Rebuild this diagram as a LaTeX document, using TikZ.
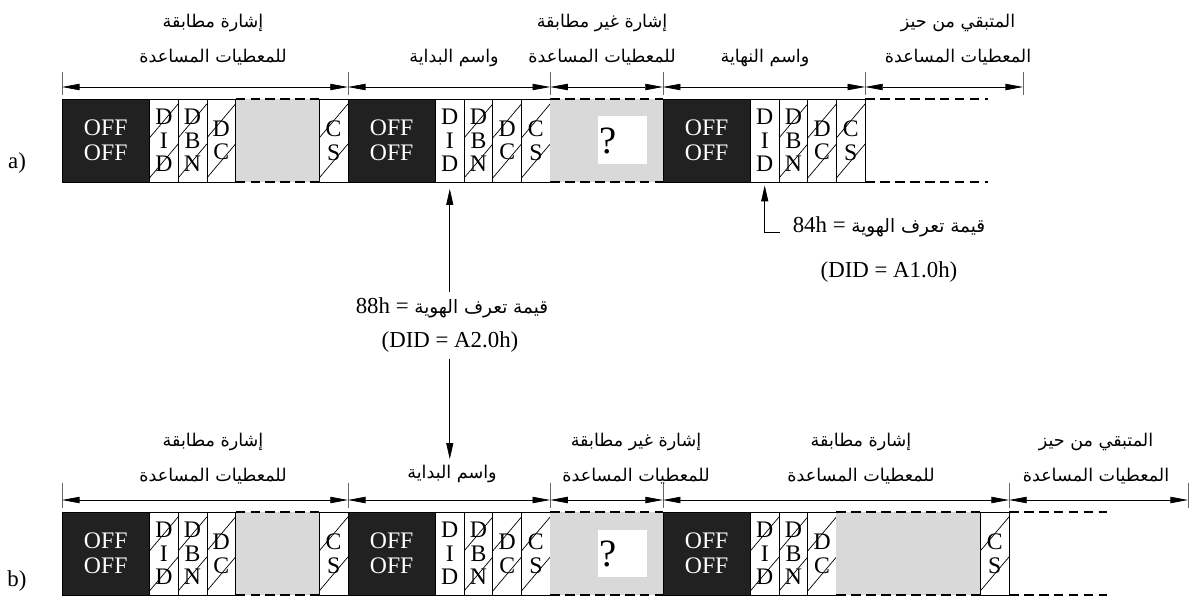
\documentclass[tikz,border=0pt]{standalone}
\usepackage{fontspec}
\setmainfont{Liberation Serif}
\newfontfamily\arabicfont[Script=Arabic]{DejaVu Sans}
\TeXXeTstate=1
\usetikzlibrary{positioning,arrows.meta}

\begin{document}
\begin{tikzpicture}[x=0.02cm,y=-0.02cm,
	blk/.style={draw,fill=black!87,text=white,inner sep=0,outer sep=0,minimum width=1.75cm,minimum height=1.66cm,align=center,font=\fontsize{13.5}{14.5}\selectfont},
	cell/.style={draw,fill=white,inner sep=0,outer sep=0,minimum width=0.574cm,minimum height=1.66cm,align=center,font=\fontsize{13.5}{13.5}\selectfont},
	hcell/.style={cell,path picture={\foreach \k in {0,1,2} \draw[line width=0.4pt] ([yshift=2.3pt+\k*22.8pt]path picture bounding box.south west) -- ++(0.574cm,0.68cm);}},
	gap/.style={fill=black!15,inner sep=0,outer sep=0,minimum height=1.66cm},
	qbox/.style={fill=white,inner sep=0,minimum height=0.96cm,text width=0.98cm,align=left,font=\fontsize{22}{22}\selectfont},
	dsh/.style={line width=1.1pt,dash pattern=on 5.5pt off 3pt},
	dim/.style={{Triangle[length=10pt,width=3.6pt]}-{Triangle[length=10pt,width=3.6pt]}},
	tck/.style={black!60},
	ptr/.style={-{Triangle[length=9pt,width=4pt]}},
	lab/.style={align=center,font=\arabicfont\fontsize{10}{20}\selectfont},
	val/.style={font=\fontsize{13}{14}\selectfont}]
	\useasboundingbox (0,0) rectangle (1192,601);
	\coordinate (dimA) at (0,87);
	\coordinate (dimB) at (0,500);
	\coordinate (endA) at (1023,87);
	\coordinate (endB) at (1188,500);
	\coordinate (tailA) at (988,0);
	\coordinate (tailB) at (1107,0);
	\node[val] (rowa) at (17,163) {a)};
	\node[val] (rowb) at (17,581) {b)};
	\node[blk,anchor=north west] (offA1) at (62,99) {OFF\\OFF};
	\node[hcell,right=0pt of offA1] (didA1) {D\\I\\D};
	\node[hcell,right=0pt of didA1] (dbnA1) {D\\B\\N};
	\node[hcell,right=0pt of dbnA1] (dcA1) {D\\C};
	\node[gap,minimum width=1.674cm,right=0pt of dcA1] (gA1) {};
	\node[hcell,right=0pt of gA1] (csA1) {C\\S};
	\node[blk,right=0pt of csA1] (offA2) {OFF\\OFF};
	\node[cell,right=0pt of offA2] (didA2) {D\\I\\D};
	\node[hcell,right=0pt of didA2] (dbnA2) {D\\B\\N};
	\node[hcell,right=0pt of dbnA2] (dcA2) {D\\C};
	\node[hcell,right=0pt of dcA2] (csA2) {C\\S};
	\node[gap,minimum width=2.254cm,right=0pt of csA2] (gA2) {};
	\node[qbox] (qA) at ([xshift=0.32cm]gA2.center) {\hspace*{1pt}?};
	\node[blk,right=0pt of gA2] (offA3) {OFF\\OFF};
	\node[cell,right=0pt of offA3] (didA3) {D\\I\\D};
	\node[hcell,right=0pt of didA3] (dbnA3) {D\\B\\N};
	\node[hcell,right=0pt of dbnA3] (dcA3) {D\\C};
	\node[hcell,right=0pt of dcA3] (csA3) {C\\S};
	\draw[dsh] (gA1.north west) -- (gA1.north east);
	\draw[dsh] (gA1.south west) -- (gA1.south east);
	\draw[dsh] (gA2.north west) -- (gA2.north east);
	\draw[dsh] (gA2.south west) -- (gA2.south east);
	\draw[dsh] (csA3.north east) -- (csA3.north east -| tailA);
	\draw[dsh] (csA3.south east) -- (csA3.south east -| tailA);
	\draw[tck] (offA1.west |- dimA) ++(0,-15) -- ++(0,23);
	\draw[tck] (csA1.east |- dimA) ++(0,-15) -- ++(0,23);
	\draw[tck] (csA2.east |- dimA) ++(0,-15) -- ++(0,23);
	\draw[tck] (offA3.west |- dimA) ++(0,-15) -- ++(0,23);
	\draw[tck] (csA3.east |- dimA) ++(0,-15) -- ++(0,23);
	\draw[tck] (endA) ++(0,-15) -- ++(0,23);
	\draw[dim] (offA1.west |- dimA) -- (csA1.east |- dimA);
	\draw[dim] (csA1.east |- dimA) -- (csA2.east |- dimA);
	\draw[dim] (csA2.east |- dimA) -- (offA3.west |- dimA);
	\draw[dim] (offA3.west |- dimA) -- (csA3.east |- dimA);
	\draw[dim] (csA3.east |- dimA) -- (endA);
	\node[lab] (labA1) at (213,40) {\beginR إشارة مطابقة\endR\\\beginR للمعطيات المساعدة\endR};
	\node[lab] (labA2) at (454,58) {\beginR واسم البداية\endR};
	\node[lab] (labA3) at (602,40) {\beginR إشارة غير مطابقة\endR\\\beginR للمعطيات المساعدة\endR};
	\node[lab] (labA4) at (765,58) {\beginR واسم النهاية\endR};
	\node[lab] (labA5) at (958,40) {\beginR المتبقي من حيز\endR\\\beginR المعطيات المساعدة\endR};
	\node[blk,anchor=north west] (offB1) at (62,512) {OFF\\OFF};
	\node[hcell,right=0pt of offB1] (didB1) {D\\I\\D};
	\node[hcell,right=0pt of didB1] (dbnB1) {D\\B\\N};
	\node[hcell,right=0pt of dbnB1] (dcB1) {D\\C};
	\node[gap,minimum width=1.674cm,right=0pt of dcB1] (gB1) {};
	\node[hcell,right=0pt of gB1] (csB1) {C\\S};
	\node[blk,right=0pt of csB1] (offB2) {OFF\\OFF};
	\node[cell,right=0pt of offB2] (didB2) {D\\I\\D};
	\node[hcell,right=0pt of didB2] (dbnB2) {D\\B\\N};
	\node[hcell,right=0pt of dbnB2] (dcB2) {D\\C};
	\node[hcell,right=0pt of dcB2] (csB2) {C\\S};
	\node[gap,minimum width=2.254cm,right=0pt of csB2] (gB2) {};
	\node[qbox] (qB) at ([xshift=0.32cm]gB2.center) {\hspace*{1pt}?};
	\node[blk,right=0pt of gB2] (offB3) {OFF\\OFF};
	\node[hcell,right=0pt of offB3] (didB3) {D\\I\\D};
	\node[hcell,right=0pt of didB3] (dbnB3) {D\\B\\N};
	\node[hcell,right=0pt of dbnB3] (dcB3) {D\\C};
	\node[gap,minimum width=2.878cm,right=0pt of dcB3] (gB3) {};
	\node[hcell,right=0pt of gB3] (csB3) {C\\S};
	\draw[dsh] (gB1.north west) -- (gB1.north east);
	\draw[dsh] (gB1.south west) -- (gB1.south east);
	\draw[dsh] (gB2.north west) -- (gB2.north east);
	\draw[dsh] (gB2.south west) -- (gB2.south east);
	\draw[dsh] (gB3.north west) -- (gB3.north east);
	\draw[dsh] (gB3.south west) -- (gB3.south east);
	\draw[dsh] (csB3.north east) -- (csB3.north east -| tailB);
	\draw[dsh] (csB3.south east) -- (csB3.south east -| tailB);
	\draw[tck] (offB1.west |- dimB) ++(0,-17) -- ++(0,25);
	\draw[tck] (csB1.east |- dimB) ++(0,-17) -- ++(0,25);
	\draw[tck] (csB2.east |- dimB) ++(0,-17) -- ++(0,25);
	\draw[tck] (offB3.west |- dimB) ++(0,-17) -- ++(0,25);
	\draw[tck] (csB3.east |- dimB) ++(0,-17) -- ++(0,25);
	\draw[tck] (endB) ++(0,-17) -- ++(0,25);
	\draw[dim] (offB1.west |- dimB) -- (csB1.east |- dimB);
	\draw[dim] (csB1.east |- dimB) -- (csB2.east |- dimB);
	\draw[dim] (csB2.east |- dimB) -- (offB3.west |- dimB);
	\draw[dim] (offB3.west |- dimB) -- (csB3.east |- dimB);
	\draw[dim] (csB3.east |- dimB) -- (endB);
	\node[lab] (labB1) at (213,459) {\beginR إشارة مطابقة\endR\\\beginR للمعطيات المساعدة\endR};
	\node[lab] (labB2) at (452,474) {\beginR واسم البداية\endR};
	\node[lab] (labB3) at (636,459) {\beginR إشارة غير مطابقة\endR\\\beginR للمعطيات المساعدة\endR};
	\node[lab] (labB4) at (861,459) {\beginR إشارة مطابقة\endR\\\beginR للمعطيات المساعدة\endR};
	\node[lab] (labB5) at (1096,459) {\beginR المتبقي من حيز\endR\\\beginR المعطيات المساعدة\endR};
	\node[val] (valA2) at (452,308) {\beginR{\arabicfont\fontsize{10.5}{14}\selectfont قيمة تعرف الهوية} = \beginL 88h\endL\endR};
	\node[val] (idA2) at (450,342) {(DID = A2.0h)};
	\node[val] (valA3) at (889,227) {\beginR{\arabicfont\fontsize{10.5}{14}\selectfont قيمة تعرف الهوية} = \beginL 84h\endL\endR};
	\node[val] (idA3) at (889,272) {(DID = A1.0h)};
	\draw[ptr] (valA2.north -| didA2) -- ([yshift=-4pt]didA2.south);
	\draw[ptr] (idA2.south -| didA2) -- (labB2.north -| didB2);
	\draw[ptr] ([xshift=-4pt,yshift=-3pt]valA3.west) -| ([yshift=-2pt]didA3.south);
\end{tikzpicture}
\end{document}
